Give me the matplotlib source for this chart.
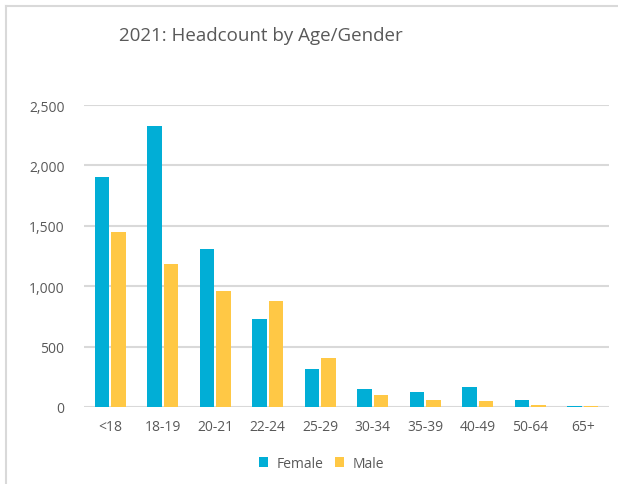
import numpy as np
import matplotlib
matplotlib.use("Agg")
import matplotlib.pyplot as plt
from matplotlib.lines import Line2D
from matplotlib.ticker import FuncFormatter

# data
age_groups = ["<18", "18-19", "20-21", "22-24", "25-29", "30-34", "35-39", "40-49", "50-64", "65+"]
female = [1903, 2323, 1312, 732, 312, 147, 128, 167, 56, 5]
male = [1450, 1182, 959, 881, 406, 103, 56, 50, 14, 7]

plt.rcParams["font.family"] = ["Open Sans", "DejaVu Sans"]

fig = plt.figure(figsize=(6.18, 4.85), dpi=100)
ax = fig.add_axes([84 / 618, 1 - 408 / 485, 525 / 618, 302 / 485])

x = np.arange(len(age_groups))
w = 0.3
ax.bar(x - w / 2 - 0.005, female, width=w - 0.02, color="#01AED6", label="Female", zorder=3)
ax.bar(x + w / 2 + 0.005, male, width=w - 0.02, color="#FFC845", label="Male", zorder=3)

ax.set_xlim(-0.5, len(age_groups) - 0.5)
ax.set_ylim(0, 2500)
ax.set_yticks(range(0, 2501, 500))
ax.yaxis.set_major_formatter(FuncFormatter(lambda v, p: f"{int(v):,}"))
ax.set_xticks(x)
ax.set_xticklabels(age_groups)
ax.tick_params(length=0, labelsize=10, colors="#595959")
ax.tick_params(axis="y", pad=14)
ax.tick_params(axis="x", pad=9)
ax.grid(axis="y", color="#d9d9d9", linewidth=1.5, zorder=0)
for s in ax.spines.values():
    s.set_visible(False)

fig.text(261 / 618, 1 - 36 / 485, "2021: Headcount by Age/Gender", ha="center", va="center",
         fontsize=13.5, color="#595959")

ax.legend(loc="upper center", bbox_to_anchor=(0.452, -0.12), ncol=2, frameon=False,
          fontsize=10, handlelength=0.7, handleheight=0.7, handletextpad=0.6, columnspacing=0.8,
          labelcolor="#595959")

# outer chart frame (left and top edges)
fig.add_artist(Line2D([6 / 618, 1], [1 - 7 / 485] * 2, color="#d9d9d9", linewidth=1.5))
fig.add_artist(Line2D([6 / 618] * 2, [0, 1 - 7 / 485], color="#d9d9d9", linewidth=1.5))

fig.savefig("out.png", dpi=100)
